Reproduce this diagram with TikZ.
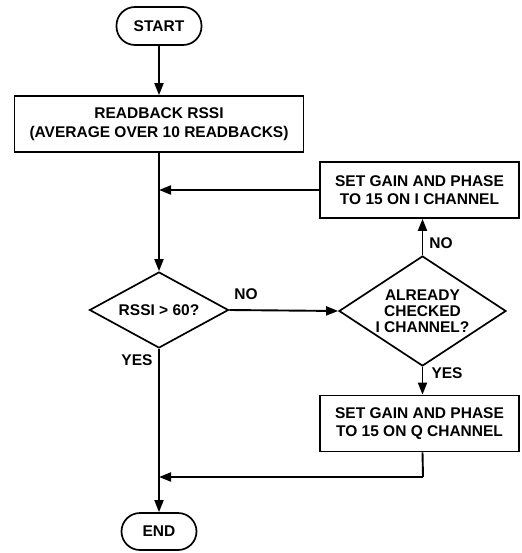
\documentclass[tikz,border=0pt]{standalone}
\usepackage{fontspec}
\setmainfont{Liberation Sans}
\usetikzlibrary{arrows.meta,shapes.geometric}
\tikzset{
  base/.style={draw, line width=1.7pt, inner sep=0pt, align=center,
    font=\fontsize{15.5}{18.5}\selectfont\bfseries},
  term/.style={base, rectangle, rounded corners=18.5pt, minimum width=85pt, minimum height=38pt},
  procbox/.style={base, rectangle, minimum height=56pt},
  decision/.style={base, diamond},
  conn/.style={line width=1.9pt, -{Triangle[length=12pt,width=9pt]}},
  line/.style={line width=1.9pt},
  lbl/.style={font=\fontsize{15.5}{18.5}\selectfont\bfseries, inner sep=0pt}
}
\begin{document}
\begin{tikzpicture}[x=1pt,y=-1pt]
\useasboundingbox (0,0) rectangle (521,553);
\node[term] (start) at (159,26) {START};
\node[procbox, minimum width=289pt] (rb) at (159,124) {READBACK RSSI\\(AVERAGE OVER 10 READBACKS)};
\node[procbox, minimum width=199pt] (ibox) at (419.5,190) {SET GAIN AND PHASE\\TO 15 ON I CHANNEL};
\node[decision, aspect=1.83, minimum width=139pt, minimum height=76pt] (d1) at (159,310) {RSSI > 60?};
\node[decision, aspect=1.52, minimum width=167pt, minimum height=110pt, font=\fontsize{15.5}{16}\selectfont\bfseries] (d2) at (422.5,311) {ALREADY\\CHECKED\\I CHANNEL?};
\node[procbox, minimum width=199pt] (qbox) at (419.5,423.5) {SET GAIN AND PHASE\\TO 15 ON Q CHANNEL};
\node[term, minimum width=75pt, minimum height=37pt] (endn) at (159,531.5) {END};

\coordinate (j1) at (ibox.west -| d1.north);
\coordinate (qr) at (423,477);
\coordinate (j2) at (qr -| d1.south);

\draw[conn] (start.south) -- (rb.north);
\draw[conn] (rb.south) -- (d1.north);
\draw[conn] (ibox.west) -- (j1);
\draw[conn] (d1.east) -- (d2.west);
\draw[conn] (d2.north) -- (d2.north |- ibox.south);
\draw[conn] (d2.south) -- (d2.south |- qbox.north);
\draw[line] (d2.south |- qbox.south) -- (qr);
\draw[conn] (qr) -- (j2);
\draw[conn] (d1.south) -- (endn.north);

\node[lbl] (no1) at (246,294) {NO};
\node[lbl] (no2) at (441,243) {NO};
\node[lbl] (yes2) at (447,373) {YES};
\node[lbl] (yes1) at (137,360) {YES};
\end{tikzpicture}
\end{document}
